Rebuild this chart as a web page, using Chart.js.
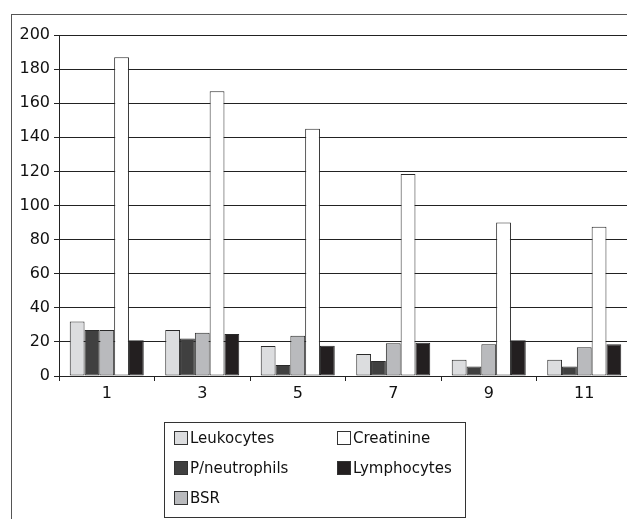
<!DOCTYPE html>
<html lang="en">
  <head>
    <meta charset="UTF-8" />
    <title>Blood markers by day</title>
    <script src="https://cdn.jsdelivr.net/npm/chart.js"></script>
    <style>
      html, body {
        margin: 0;
        padding: 0;
        background: #ffffff;
        overflow: hidden;
      }
      .frame {
        position: absolute;
        left: 11px;
        top: 14px;
        width: 700px;
        height: 600px;
        border-left: 1px solid #555;
        border-top: 1px solid #555;
      }
      .chart-container {
        position: absolute;
        left: 0;
        top: 0;
        width: 640px;
        height: 519px;
      }
    </style>
  </head>
  <body>
    <div class="frame"></div>
    <div class="chart-container"><canvas id="markerChart"></canvas></div>

    <script>
      const days = ["1", "3", "5", "7", "9", "11"];
      const leukocytes = [32, 27, 17.6, 12.9, 9.6, 9.6];
      const pNeutrophils = [27, 22, 6.5, 8.8, 5.5, 5.5];
      const bsr = [27, 25.4, 23.6, 19.2, 18.6, 16.8];
      const creatinine = [187, 167, 145, 118.5, 90, 87.5];
      const lymphocytes = [21, 24.6, 17.8, 19.5, 21, 18.6];
      const yTicks = [0, 20, 40, 60, 80, 100, 120, 140, 160, 180, 200];

      const FONT = "'DejaVu Sans', sans-serif";

      // legend drawn in a framed two-column grid under the chart
      const boxLegend = {
        id: "boxLegend",
        afterDraw(chart) {
          const ctx = chart.ctx;
          const ds = chart.data.datasets;
          const order = [0, 3, 1, 4, 2];
          ctx.save();
          ctx.strokeStyle = "#333";
          ctx.lineWidth = 1;
          ctx.strokeRect(164.5, 422.5, 301, 95);
          ctx.font = "15px " + FONT;
          ctx.textBaseline = "middle";
          order.forEach((i, n) => {
            const col = n % 2;
            const row = Math.floor(n / 2);
            const x = col ? 337 : 174;
            const y = 438 + row * 30;
            ctx.fillStyle = ds[i].backgroundColor;
            ctx.fillRect(x, y - 7, 14, 14);
            ctx.strokeStyle = "#333";
            ctx.strokeRect(x + 0.5, y - 6.5, 13, 13);
            ctx.fillStyle = "#111";
            ctx.fillText(ds[i].label, x + 16, y + 1);
          });
          ctx.restore();
        },
      };

      function bar(label, data, color) {
        return {
          label,
          data,
          backgroundColor: color,
          borderColor: "#2a2a2a",
          borderWidth: 1,
          borderSkipped: false,
          categoryPercentage: 0.775,
          barPercentage: 1.0,
        };
      }

      new Chart(document.getElementById("markerChart"), {
        type: "bar",
        data: {
          labels: days,
          datasets: [
            bar("Leukocytes", leukocytes, "#dcdddf"),
            bar("P/neutrophils", pNeutrophils, "#404040"),
            bar("BSR", bsr, "#b9babd"),
            bar("Creatinine", creatinine, "#ffffff"),
            bar("Lymphocytes", lymphocytes, "#231f20"),
          ],
        },
        options: {
          responsive: true,
          maintainAspectRatio: false,
          animation: false,
          layout: { padding: { top: 35, right: 8, bottom: 113, left: 0 } },
          plugins: {
            legend: { display: false },
            tooltip: { enabled: false },
          },
          scales: {
            x: {
              offset: true,
              grid: {
                offset: true,
                drawOnChartArea: false,
                color: "#222",
                tickLength: 5,
              },
              border: { color: "#222" },
              ticks: {
                color: "#111",
                padding: 3,
                font: { family: FONT, size: 16 },
              },
              afterFit(scale) {
                scale.height = 30;
              },
            },
            y: {
              min: 0,
              max: 200,
              afterBuildTicks(scale) {
                scale.ticks = yTicks.map((v) => ({ value: v }));
              },
              grid: { color: "#222", tickLength: 5 },
              border: { color: "#222" },
              ticks: {
                color: "#111",
                padding: 4,
                font: { family: FONT, size: 16 },
              },
              afterFit(scale) {
                scale.width = 59;
              },
            },
          },
        },
        plugins: [boxLegend],
      });
    </script>
  </body>
</html>
